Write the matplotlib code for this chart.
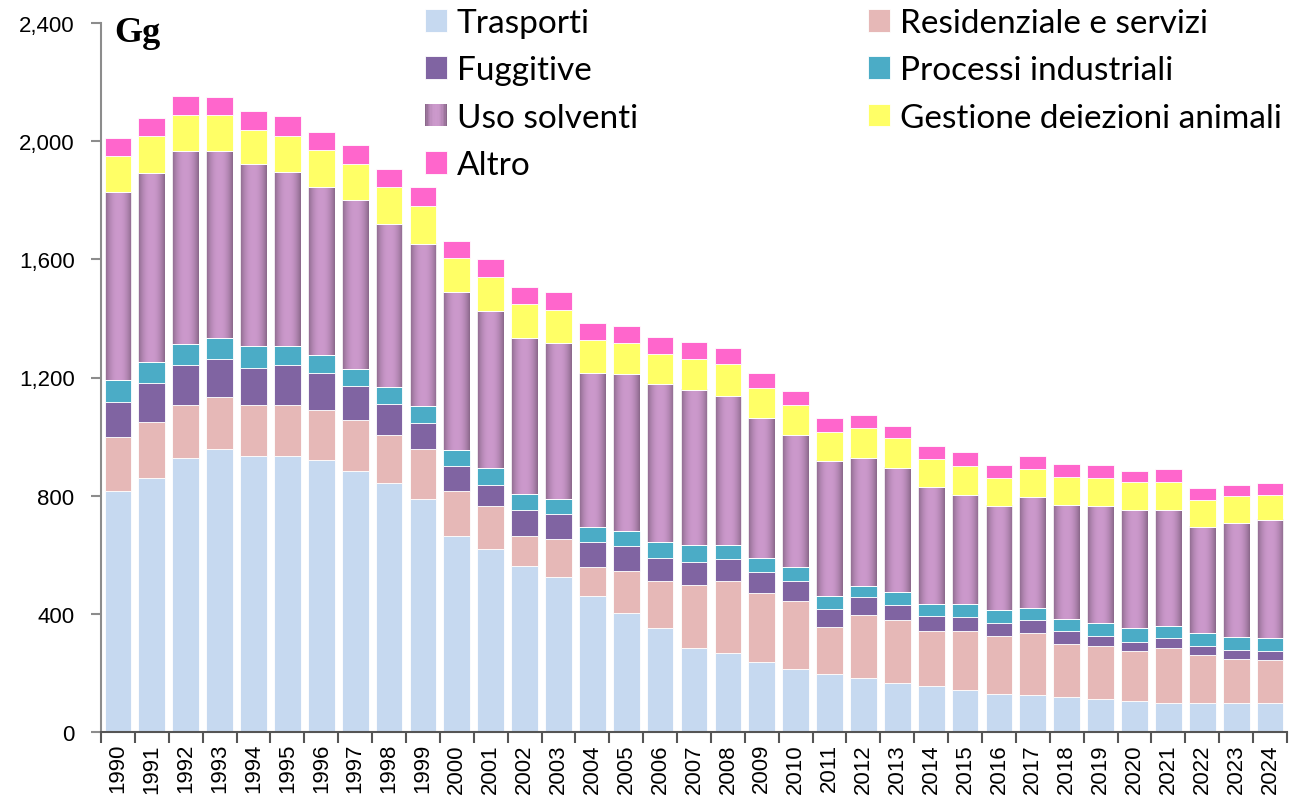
import numpy as np
import matplotlib
matplotlib.use("Agg")
import matplotlib.pyplot as plt
from matplotlib.patches import Patch, Rectangle
from matplotlib.legend_handler import HandlerBase

#%% data (Gg)
years = list(range(1990, 2025))

trasporti = [816, 860, 929, 959, 933, 933, 920, 885, 842, 790,
             663, 620, 563, 526, 460, 403, 351, 285, 268, 238,
             213, 195, 183, 165, 157, 143, 130, 126, 117, 113,
             105, 99, 99, 99, 99]
residenziale = [181, 190, 178, 174, 174, 174, 169, 170, 164, 169,
                153, 144, 100, 128, 100, 143, 161, 214, 244, 234,
                229, 160, 212, 213, 186, 200, 195, 208, 182, 177,
                168, 184, 161, 148, 144]
fuggitive = [119, 131, 134, 130, 125, 134, 126, 117, 105, 87,
             83, 73, 87, 83, 82, 83, 78, 77, 74, 70,
             69, 61, 61, 52, 51, 47, 44, 44, 44, 35,
             32, 34, 31, 31, 31]
processi = [77, 72, 73, 70, 75, 66, 61, 57, 57, 57,
            56, 57, 57, 53, 52, 52, 52, 58, 48, 48,
            49, 43, 38, 43, 39, 43, 43, 43, 40, 44,
            47, 43, 44, 44, 43]
solventi = [634, 639, 652, 633, 615, 590, 568, 572, 551, 550,
            533, 530, 526, 526, 521, 530, 535, 525, 503, 473,
            446, 457, 435, 421, 396, 370, 353, 373, 385, 395,
            399, 391, 360, 385, 400]
deiezioni = [122, 125, 122, 122, 117, 120, 126, 121, 125, 126,
             116, 116, 116, 111, 112, 107, 103, 104, 108, 103,
             101, 100, 99, 100, 95, 98, 94, 95, 95, 95,
             94, 95, 90, 91, 85]
altro = [61, 61, 65, 62, 62, 67, 60, 65, 61, 65,
         57, 61, 56, 61, 56, 57, 56, 56, 54, 48,
         47, 47, 44, 43, 43, 46, 44, 44, 43, 44,
         40, 43, 40, 39, 40]

#%% colours
C_TRASP = '#C6D9F0'
C_RESID = '#E6B8B7'
C_FUGG = '#8064A2'
C_PROC = '#4BACC6'
C_DEIEZ = '#FFFF66'
C_ALTRO = '#FF66CC'
SOLV_DARK = np.array([0x8A, 0x68, 0x8A]) / 255.
SOLV_LIGHT = np.array([0xCC, 0x99, 0xCC]) / 255.


def solvGradient(n=64):
    x = np.linspace(0, 1, n)
    d = np.abs(x - 0.5) * 2
    f = d ** 2.2
    return SOLV_LIGHT[None, :] * (1 - f[:, None]) + SOLV_DARK[None, :] * f[:, None]


class GradHandler(HandlerBase):
    def create_artists(self, legend, orig_handle, xdescent, ydescent,
                       width, height, fontsize, trans):
        cols = solvGradient(16)
        arts = []
        for k, c in enumerate(cols):
            r = Rectangle((-xdescent + width * k / 16., -ydescent), width / 16. + 0.3,
                          height, facecolor=c, edgecolor='none', transform=trans)
            arts.append(r)
        return arts


#%% figure
fig = plt.figure(figsize=(12.94, 8.04), dpi=100)
ax = fig.add_axes([101 / 1294., 1 - 733 / 804., (1287 - 101) / 1294., (733 - 24) / 804.])

x = np.arange(len(years))
W = 0.79
EDGE = dict(edgecolor='white', linewidth=0.6)

bottom = np.zeros(len(years))
b_tr = ax.bar(x, trasporti, W, bottom=bottom, color=C_TRASP, label='Trasporti', zorder=2, **EDGE)
bottom += trasporti
b_re = ax.bar(x, residenziale, W, bottom=bottom, color=C_RESID, label='Residenziale e servizi', zorder=2, **EDGE)
bottom += residenziale
b_fu = ax.bar(x, fuggitive, W, bottom=bottom, color=C_FUGG, label='Fuggitive', zorder=2, **EDGE)
bottom += fuggitive
b_pr = ax.bar(x, processi, W, bottom=bottom, color=C_PROC, label='Processi industriali', zorder=2, **EDGE)
bottom += processi

# uso solventi: horizontal gradient inside each bar
grad = solvGradient()[None, :, :]
for i in range(len(years)):
    ax.imshow(grad, extent=[x[i] - W / 2, x[i] + W / 2, bottom[i], bottom[i] + solventi[i]],
              aspect='auto', interpolation='bilinear', zorder=2)
    ax.add_patch(Rectangle((x[i] - W / 2, bottom[i]), W, solventi[i], facecolor='none',
                           edgecolor='white', linewidth=0.6, zorder=3))
bottom += solventi

b_de = ax.bar(x, deiezioni, W, bottom=bottom, color=C_DEIEZ, label='Gestione deiezioni animali', zorder=2, **EDGE)
bottom += deiezioni
b_al = ax.bar(x, altro, W, bottom=bottom, color=C_ALTRO, label='Altro', zorder=2, **EDGE)

ax.set_xlim(-0.5, len(years) - 0.5)
ax.set_ylim(0, 2400)

# axes styling
for s in ['top', 'right']:
    ax.spines[s].set_visible(False)
ax.spines['left'].set_color('#8C8C8C')
ax.spines['left'].set_linewidth(1.5)
ax.spines['bottom'].set_color('#555555')
ax.spines['bottom'].set_linewidth(1.5)

ax.set_yticks(range(0, 2401, 400))
ax.set_yticklabels(['{:,}'.format(v) for v in range(0, 2401, 400)],
                   fontsize=16, family='Liberation Sans')
ax.tick_params(axis='y', length=7, width=1.5, color='#8C8C8C', pad=12)

ax.set_xticks(x)
ax.set_xticklabels([str(y) for y in years], rotation=90, fontsize=16, family='Liberation Sans')
ax.tick_params(axis='x', which='major', length=0, pad=8)
ax.set_xticks(np.arange(-0.5, len(years), 1), minor=True)
ax.tick_params(axis='x', which='minor', length=8, width=1.5, color='#555555')

fig.text(114 / 1294., 1 - 42 / 804., 'Gg', fontsize=26, fontweight='bold',
         family='Liberation Serif', ha='left', va='baseline')

#%% legend, two columns placed separately
solv_proxy = Patch(facecolor='#B58AB5', label='Uso solventi')
LEG = dict(loc='upper left', frameon=False, handlelength=0.66, handleheight=0.66,
           handletextpad=0.3, labelspacing=0.52, borderpad=0, borderaxespad=0,
           prop={'family': 'Lato', 'size': 24})
fig.legend([b_tr, b_fu, solv_proxy, b_al],
           ['Trasporti', 'Fuggitive', 'Uso solventi', 'Altro'],
           bbox_to_anchor=(425 / 1294., 1 - 9 / 804.),
           handler_map={solv_proxy: GradHandler()}, **LEG)
fig.legend([b_re, b_pr, b_de],
           ['Residenziale e servizi', 'Processi industriali', 'Gestione deiezioni animali'],
           bbox_to_anchor=(868 / 1294., 1 - 9 / 804.), **LEG)

fig.savefig('out.png', dpi=100)
